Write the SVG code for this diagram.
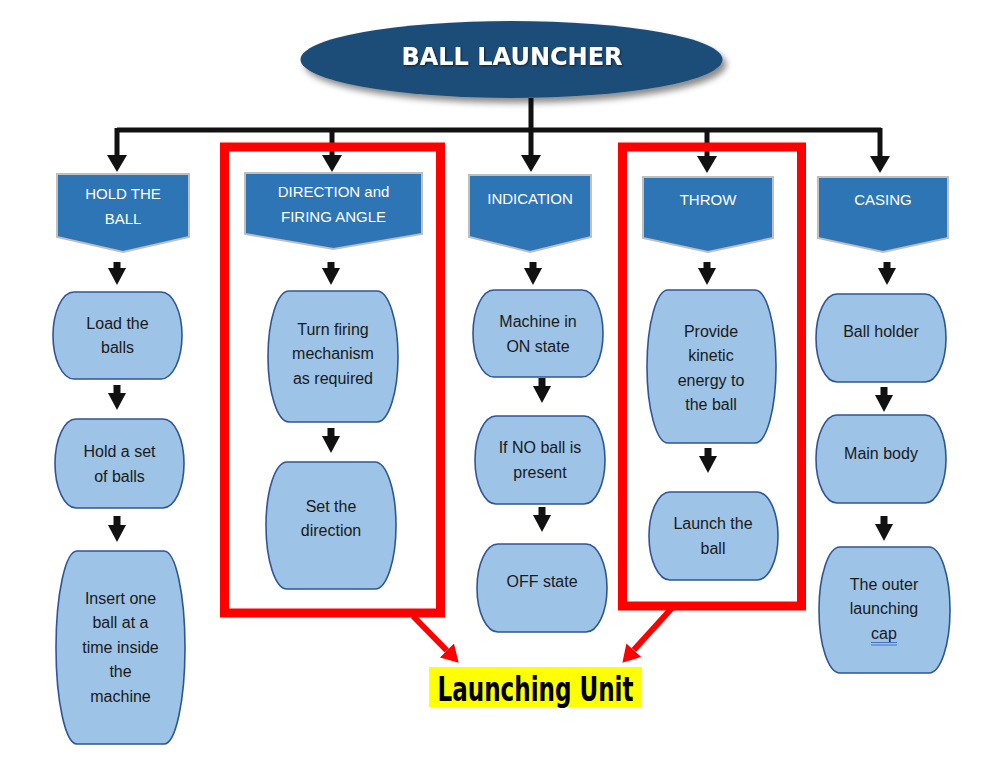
<svg xmlns="http://www.w3.org/2000/svg" width="1006" height="764" viewBox="0 0 1006 764">
<style>
.box{fill:#9DC3E6;stroke:#2F5597;stroke-width:1.6}
.hdr{fill:#2E75B6;stroke:#BFBFBF;stroke-width:2}
.bt{font-family:"Liberation Sans",Arial,sans-serif;font-size:16px;fill:#1a1a1a;text-anchor:middle}
.ht{font-family:"Liberation Sans",Arial,sans-serif;font-size:15px;fill:#ffffff;text-anchor:middle}
.bus{stroke:#111;stroke-width:5;fill:none}
.sa{stroke:#111;stroke-width:7;fill:none;marker-end:url(#ahS)}
.ba{stroke:#111;stroke-width:5;fill:none;marker-end:url(#ahB)}
.red{stroke:#FF0000;stroke-width:9;fill:none}
.ra{stroke:#FF0000;stroke-width:6;fill:none;marker-end:url(#ahR)}
</style>
<defs>
<marker id="ahS" markerUnits="userSpaceOnUse" markerWidth="17" markerHeight="18" refX="0" refY="9" orient="auto"><path d="M0,0 L17,9 L0,18 Z" fill="#111"/></marker>
<marker id="ahB" markerUnits="userSpaceOnUse" markerWidth="17" markerHeight="20" refX="0" refY="10" orient="auto"><path d="M0,0 L17,10 L0,20 Z" fill="#111"/></marker>
<marker id="ahR" markerUnits="userSpaceOnUse" markerWidth="17" markerHeight="20" refX="0" refY="10" orient="auto"><path d="M0,0 L17,10 L0,20 Z" fill="#FF0000"/></marker>
<filter id="sh" x="-10%" y="-30%" width="125%" height="170%"><feDropShadow dx="4" dy="5" stdDeviation="3" flood-color="#000" flood-opacity="0.45"/></filter>
<filter id="tsh" x="-5%" y="-20%" width="110%" height="150%"><feDropShadow dx="1" dy="1" stdDeviation="0.8" flood-color="#000" flood-opacity="0.6"/></filter>
</defs>

<g id="connectors">
<path class="bus" d="M531,98 V130 M117,130 H881"/>
<line class="ba" x1="117" y1="128" x2="117" y2="155"/>
<line class="ba" x1="332" y1="130" x2="332" y2="155"/>
<line class="ba" x1="531" y1="130" x2="531" y2="155"/>
<line class="ba" x1="707" y1="130" x2="707" y2="156"/>
<line class="ba" x1="880" y1="128" x2="880" y2="156"/>
<line class="sa" x1="117" y1="262" x2="117" y2="268"/>
<line class="sa" x1="331" y1="262" x2="331" y2="268"/>
<line class="sa" x1="533" y1="262" x2="533" y2="268"/>
<line class="sa" x1="707" y1="262" x2="707" y2="268"/>
<line class="sa" x1="887" y1="262" x2="887" y2="268"/>
<line class="sa" x1="117" y1="385" x2="117" y2="393"/>
<line class="sa" x1="117" y1="516" x2="117" y2="525"/>
<line class="sa" x1="331" y1="428" x2="331" y2="436"/>
<line class="sa" x1="542" y1="378" x2="542" y2="386"/>
<line class="sa" x1="542" y1="507" x2="542" y2="515"/>
<line class="sa" x1="708" y1="448" x2="708" y2="456"/>
<line class="sa" x1="884" y1="387" x2="884" y2="395"/>
<line class="sa" x1="884" y1="516" x2="884" y2="524"/>
<line class="ra" x1="413" y1="616" x2="446.8" y2="650.5"/>
<line class="ra" x1="672" y1="608" x2="633.8" y2="650.1"/>
</g>

<g id="root">
<ellipse cx="511.5" cy="59.5" rx="211" ry="38.5" fill="#1F4E79" filter="url(#sh)"/>
<text x="512" y="65" font-family="DejaVu Sans,Verdana,sans-serif" font-weight="bold" font-size="24" fill="#fff" text-anchor="middle" filter="url(#tsh)">BALL LAUNCHER</text>
</g>

<g id="hdr-hold">
<path class="hdr" d="M57,174 H189 V237 L123,252 L57,237 Z"/>
<text class="ht" x="123" y="199">HOLD THE</text>
<text class="ht" x="123" y="224">BALL</text>
</g>
<g id="hdr-direction">
<path class="hdr" d="M245,173 H422 V234 L333.5,249 L245,234 Z"/>
<text class="ht" x="333.5" y="197">DIRECTION and</text>
<text class="ht" x="333.5" y="222">FIRING ANGLE</text>
</g>
<g id="hdr-indication">
<path class="hdr" d="M469,175 H591 V237 L530,252 L469,237 Z"/>
<text class="ht" x="530" y="204">INDICATION</text>
</g>
<g id="hdr-throw">
<path class="hdr" d="M643,177 H773 V238 L708,252 L643,238 Z"/>
<text class="ht" x="708" y="205">THROW</text>
</g>
<g id="hdr-casing">
<path class="hdr" d="M818,177 H948 V238 L883,252 L818,238 Z"/>
<text class="ht" x="883" y="205">CASING</text>
</g>

<g id="load-balls">
<path class="box" d="M74,292 H161 A21,43.5 0 0 1 161,379 H74 A21,43.5 0 0 1 74,292 Z"/>
<text class="bt" x="117.5" y="329">Load the</text>
<text class="bt" x="117.5" y="353">balls</text>
</g>
<g id="hold-set">
<path class="box" d="M76,419 H163 A21,44.5 0 0 1 163,508 H76 A21,44.5 0 0 1 76,419 Z"/>
<text class="bt" x="119.5" y="457">Hold a set</text>
<text class="bt" x="119.5" y="482">of balls</text>
</g>
<g id="insert-one">
<path class="box" d="M77,551 H164 A21,96.5 0 0 1 164,744 H77 A21,96.5 0 0 1 77,551 Z"/>
<text class="bt" x="120.5" y="604">Insert one</text>
<text class="bt" x="120.5" y="628">ball at a</text>
<text class="bt" x="120.5" y="653">time inside</text>
<text class="bt" x="120.5" y="677">the</text>
<text class="bt" x="120.5" y="702">machine</text>
</g>

<g id="turn-firing">
<path class="box" d="M289,291 H377 A21,65.5 0 0 1 377,422 H289 A21,65.5 0 0 1 289,291 Z"/>
<text class="bt" x="333" y="335">Turn firing</text>
<text class="bt" x="333" y="359">mechanism</text>
<text class="bt" x="333" y="384">as required</text>
</g>
<g id="set-direction">
<path class="box" d="M287,462 H375 A21,63.5 0 0 1 375,589 H287 A21,63.5 0 0 1 287,462 Z"/>
<text class="bt" x="331" y="512">Set the</text>
<text class="bt" x="331" y="536">direction</text>
</g>

<g id="machine-on">
<path class="box" d="M494,290 H582 A21,43.5 0 0 1 582,377 H494 A21,43.5 0 0 1 494,290 Z"/>
<text class="bt" x="538" y="327">Machine in</text>
<text class="bt" x="538" y="352">ON state</text>
</g>
<g id="no-ball">
<path class="box" d="M496,416 H584 A21,44 0 0 1 584,504 H496 A21,44 0 0 1 496,416 Z"/>
<text class="bt" x="540" y="453">If NO ball is</text>
<text class="bt" x="540" y="478">present</text>
</g>
<g id="off-state">
<path class="box" d="M498,544 H586 A21,44 0 0 1 586,632 H498 A21,44 0 0 1 498,544 Z"/>
<text class="bt" x="542" y="587">OFF state</text>
</g>

<g id="provide-energy">
<path class="box" d="M668,290 H755 A21,76.5 0 0 1 755,443 H668 A21,76.5 0 0 1 668,290 Z"/>
<text class="bt" x="711" y="337">Provide</text>
<text class="bt" x="711" y="361">kinetic</text>
<text class="bt" x="711" y="386">energy to</text>
<text class="bt" x="711" y="410">the ball</text>
</g>
<g id="launch-ball">
<path class="box" d="M670,492 H757 A21,44 0 0 1 757,580 H670 A21,44 0 0 1 670,492 Z"/>
<text class="bt" x="713" y="529">Launch the</text>
<text class="bt" x="713" y="554">ball</text>
</g>

<g id="ball-holder">
<path class="box" d="M837,294 H925 A21,44 0 0 1 925,382 H837 A21,44 0 0 1 837,294 Z"/>
<text class="bt" x="881" y="337">Ball holder</text>
</g>
<g id="main-body">
<path class="box" d="M837,415 H925 A21,44 0 0 1 925,503 H837 A21,44 0 0 1 837,415 Z"/>
<text class="bt" x="881" y="459">Main body</text>
</g>
<g id="outer-cap">
<path class="box" d="M840,547 H929 A21,63 0 0 1 929,673 H840 A21,63 0 0 1 840,547 Z"/>
<text class="bt" x="884" y="590">The outer</text>
<text class="bt" x="884" y="614">launching</text>
<text class="bt" x="884" y="639">cap</text>
<path d="M871,642.5 H897 M871,645 H897" stroke="#4472C4" stroke-width="1" fill="none"/>
</g>

<g id="group-direction">
<rect class="red" x="224.5" y="147" width="216" height="466"/>
</g>
<g id="group-throw">
<rect class="red" x="622.5" y="147" width="179" height="459"/>
</g>

<g id="launching-unit">
<rect x="429" y="667" width="213" height="40" fill="#FFFF00"/>
<text x="535.5" y="701" font-family="Liberation Sans Narrow,DejaVu Sans Condensed,Liberation Sans,sans-serif" font-weight="bold" font-size="33" fill="#000" text-anchor="middle" textLength="196" lengthAdjust="spacingAndGlyphs">Launching Unit</text>
</g>
</svg>
